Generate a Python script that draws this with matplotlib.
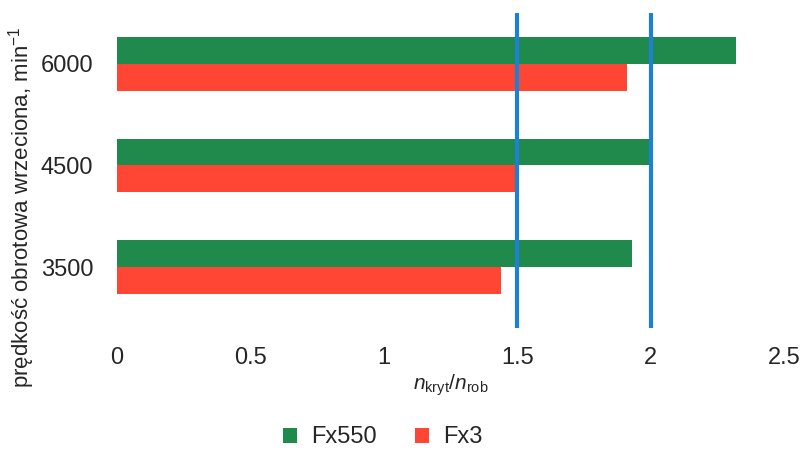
import matplotlib
matplotlib.use("Agg")
import matplotlib.pyplot as plt
import numpy as np

# Spindle speeds and critical/working speed ratios
speeds = ["3500", "4500", "6000"]
fx550 = [1.93, 2.00, 2.32]
fx3 = [1.44, 1.49, 1.91]
limit_lines = [1.5, 2.0]
x_ticks = [0, 0.5, 1, 1.5, 2, 2.5]
x_tick_labels = ["0", "0.5", "1", "1.5", "2", "2.5"]

plt.rcParams["font.family"] = ["Liberation Sans", "DejaVu Sans"]
plt.rcParams["mathtext.fontset"] = "custom"
plt.rcParams["mathtext.rm"] = "Liberation Sans"
plt.rcParams["mathtext.it"] = "Liberation Sans:italic"

green = "#1f8a4c"
red = "#ff4533"
blue = "#1f7fd0"
text_col = "#262626"

fig = plt.figure(figsize=(8.01, 4.5), dpi=100)
ax = fig.add_axes([0.146, 0.271, 0.833, 0.700])

y = np.arange(len(speeds))
h = 0.265
ax.barh(y + h / 2, fx550, height=h, color=green, label="Fx550", zorder=2)
ax.barh(y - h / 2, fx3, height=h, color=red, label="Fx3", zorder=2)

for v in limit_lines:
    ax.axvline(v, color=blue, lw=3, zorder=3)

ax.set_xlim(0, 2.5)
ax.set_ylim(-0.6, 2.5)
ax.set_xticks(x_ticks)
ax.set_xticklabels(x_tick_labels)
ax.set_yticks(y)
ax.set_yticklabels(speeds)
ax.tick_params(axis="both", length=0, labelsize=17, colors=text_col)
ax.tick_params(axis="y", pad=17)
ax.tick_params(axis="x", pad=14)
for s in ax.spines.values():
    s.set_visible(False)

ax.set_xlabel(r"$\mathit{n}_{\mathrm{kryt}}/\mathit{n}_{\mathrm{rob}}$", fontsize=15,
              color=text_col, labelpad=2)
fig.text(0.027, 0.54, "prędkość obrotowa wrzeciona, min$^{-1}$", rotation=90,
         fontsize=16, color=text_col, ha="center", va="center")

leg = fig.legend(loc="center", bbox_to_anchor=(0.478, 0.028), ncol=2, frameon=False,
                 fontsize=17, handlelength=0.6, handleheight=0.6, columnspacing=1.6,
                 handletextpad=0.6)
for t in leg.get_texts():
    t.set_color(text_col)

fig.savefig("out.png", dpi=100)
